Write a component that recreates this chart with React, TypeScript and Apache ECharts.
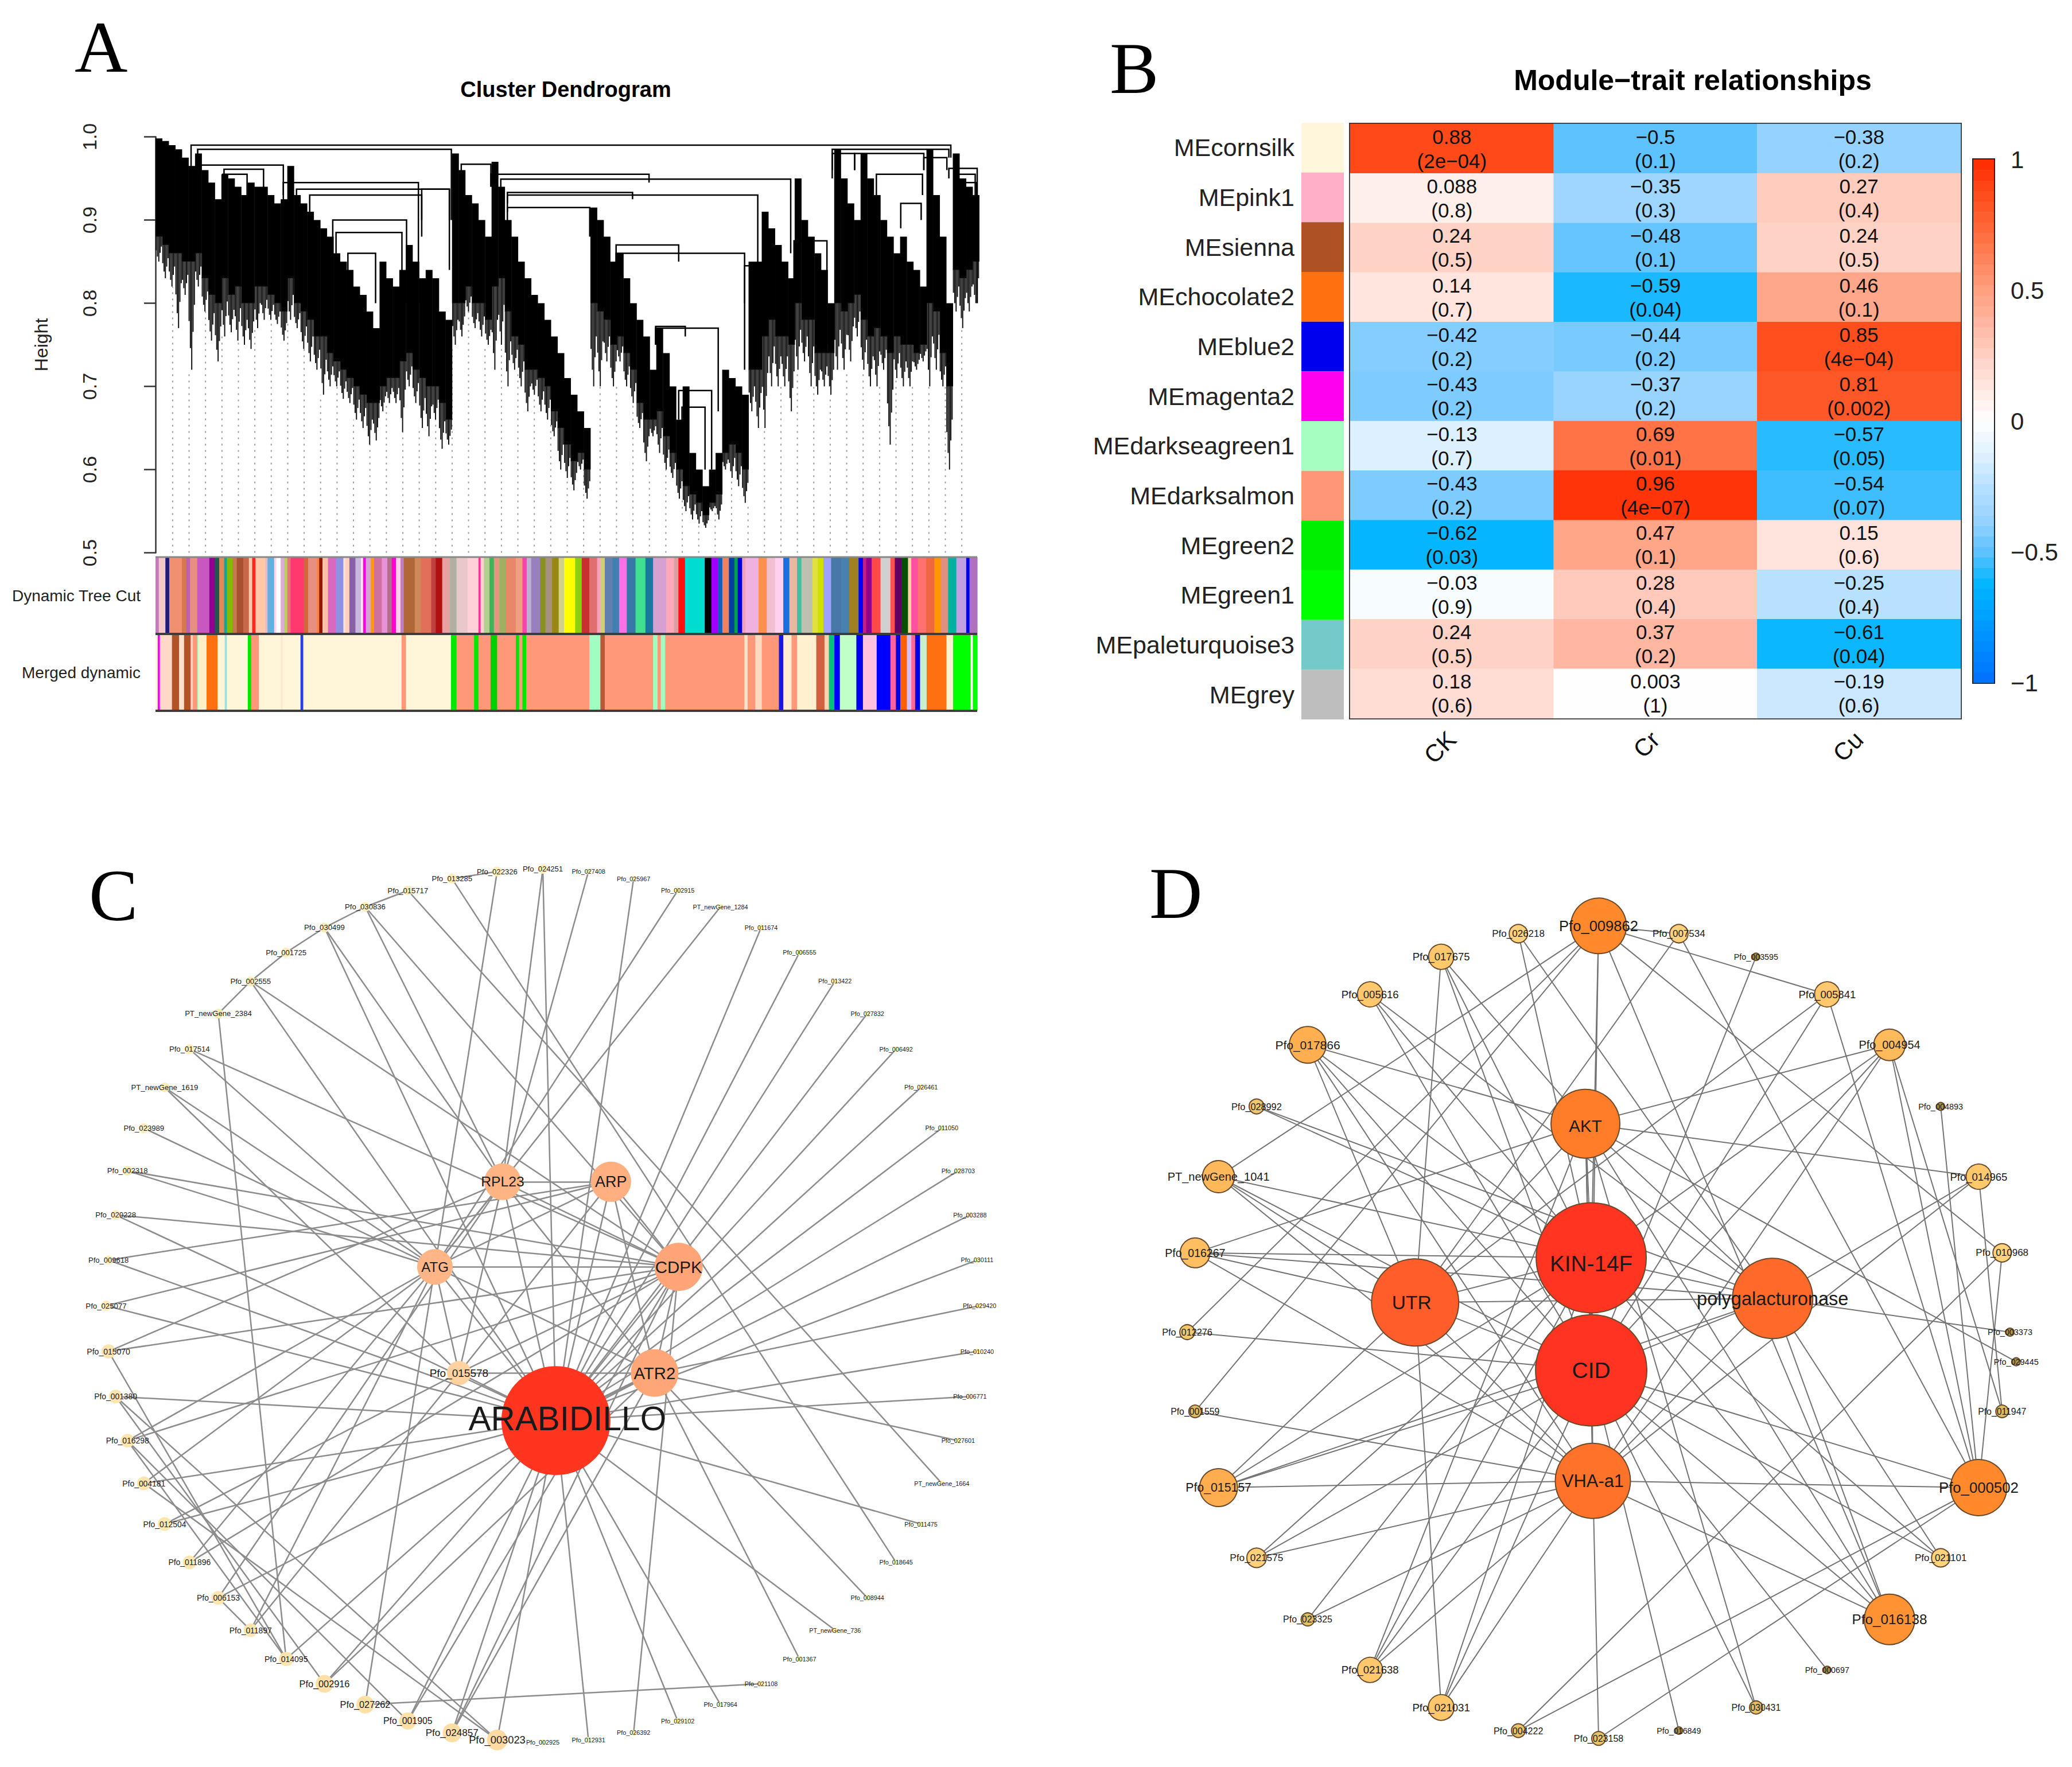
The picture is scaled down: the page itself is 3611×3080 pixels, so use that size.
import React, { useEffect, useRef } from "react";
import * as echarts from "echarts";

const SANS = "Liberation Sans";
const SERIF = "Liberation Serif";

// ---------- A: dendrogram (leaf order runs 0..1247) ----------
const dendroStep = 10;
const dendroTop = [.998,.995,.99,.985,.975,.965,.98,.96,.945,.925,.955,.95,.94,.93,.945,.94,.94,.93,.92,.925,.965,.93,.92,.91,.90,.89,.88,.86,.85,.84,.82,.81,.79,.77,.85,.83,.82,.84,.87,.85,.83,.84,.83,.79,.78,.98,.96,.93,.92,.90,.88,.97,.94,.90,.88,.85,.83,.81,.80,.78,.76,.74,.71,.69,.67,.65,.915,.90,.88,.85,.86,.83,.80,.78,.76,.72,.77,.74,.70,.66,.70,.62,.60,.58,.60,.62,.72,.71,.70,.69,.85,.85,.91,.89,.87,.85,.83,.95,.90,.88,.86,.84,.80,.985,.95,.92,.90,.98,.95,.93,.90,.88,.86,.88,.85,.84,.82,.985,.93,.88,.80,.98,.95,.94,.93];
const dendroCore = [.88,.87,.86,.86,.85,.85,.86,.83,.81,.80,.83,.81,.82,.80,.80,.82,.82,.81,.80,.79,.83,.80,.79,.78,.76,.76,.74,.73,.72,.71,.70,.69,.68,.68,.70,.71,.71,.73,.74,.72,.71,.70,.70,.68,.66,.80,.80,.82,.80,.80,.78,.82,.83,.79,.76,.75,.72,.72,.71,.70,.67,.65,.63,.61,.62,.60,.80,.79,.78,.75,.76,.74,.72,.68,.66,.66,.67,.64,.62,.60,.58,.57,.56,.545,.56,.57,.62,.63,.62,.60,.72,.72,.76,.78,.76,.76,.75,.80,.78,.78,.74,.74,.74,.80,.79,.80,.81,.78,.76,.77,.76,.74,.76,.75,.75,.74,.75,.80,.79,.74,.70,.84,.83,.84,.85];
const dendroTip = [.85,.83,.82,.77,.81,.72,.82,.79,.755,.73,.76,.765,.755,.75,.745,.77,.78,.78,.775,.755,.78,.77,.745,.73,.72,.69,.70,.70,.685,.68,.66,.65,.63,.635,.67,.68,.68,.645,.70,.68,.65,.64,.66,.625,.63,.75,.76,.79,.77,.76,.75,.72,.75,.70,.72,.70,.67,.69,.67,.66,.64,.60,.59,.575,.60,.565,.70,.70,.73,.70,.73,.70,.68,.65,.61,.64,.62,.60,.59,.565,.55,.54,.535,.53,.55,.54,.60,.59,.58,.56,.67,.65,.65,.70,.70,.70,.67,.72,.73,.70,.69,.70,.69,.72,.72,.73,.76,.72,.70,.70,.72,.63,.71,.70,.70,.72,.73,.70,.72,.70,.60,.79,.77,.79,.80];
const mergeLeft = [54,64,64,104,102,194,214,234,269,274,292,404,464,509,524,534,534,534,699,699,759,759,794,799,894,969,1027,1027,1061,1094,1131,1166,1204,1214,1229];
const mergeRight = [1207,449,194,164,139,399,446,404,381,374,334,446,509,749,964,724,914,659,794,894,804,854,844,834,914,1019,1204,1061,1166,1164,1162,1201,1247,1244,1246];
const mergeHeight = [.99,.985,.966,.961,.955,.945,.937,.93,.90,.885,.86,.937,.967,.955,.949,.933,.93,.915,.87,.86,.772,.77,.695,.675,.845,.875,.985,.98,.98,.955,.92,.975,.962,.955,.945];
const mergeDropLeft = [.93,.95,.90,.92,.90,.90,.90,.90,.86,.85,.83,.90,.93,.94,.93,.92,.91,.89,.84,.83,.75,.75,.66,.62,.80,.80,.96,.95,.96,.93,.89,.96,.95,.94,.92];
const mergeDropRight = [.975,.90,.93,.93,.92,.80,.84,.88,.80,.80,.80,.90,.94,.945,.86,.925,.80,.88,.85,.72,.76,.67,.60,.60,.80,.75,.975,.96,.96,.93,.90,.96,.80,.90,.85];

const treeCutStarts = [22,28,40,47,70,78,85,98,120,130,138,147,152,162,170,182,192,198,204,222,226,238,242,250,256,262,268,292,300,316,320,326,336,350,364,368,375,386,396,400,405,414,420,434,444,452,460,468,474,494,505,524,532,544,558,570,590,610,614,620,630,638,648,660,678,690,698,706,722,732,744,756,766,786,798,812,826,832,840,854,866,880,896,914,928,952,966,974,986,1022,1034,1046,1054,1066,1076,1082,1090,1096,1120,1135,1150,1165,1176,1190,1198,1218,1228,1238,1252,1270,1285,1302,1310,1316,1326,1342,1360,1368,1380,1392,1398,1410,1425,1440,1452,1465,1480,1498,1504];
const treeCutColors = ["#c878c0","#f4c8c8","#1c1c80","#f09070","#d87850","#c060b0","#e89080","#c858c0","#900090","#1c5c48","#e08858","#08a898","#88b808","#c87850","#a85030","#c86848","#ffc8a8","#ff2820","#ffc8a8","#e8b8d0","#60b0e0","#f8d8e8","#ffffff","#e0a8e0","#b8d060","#f07078","#ff3870","#d06838","#e89080","#ff8040","#901800","#ffc0a8","#d868c0","#9090e0","#f8e0d8","#ffd0c0","#8860a8","#c8b8e0","#ffe0f0","#ff00e0","#d8a0d8","#ff9810","#d070a0","#e890d8","#b07088","#ff00d0","#ffd0e8","#c080c0","#b06838","#d08858","#e07058","#c04040","#b01010","#e8a0a0","#b0b0a0","#e8c8c8","#ffd0d8","#ff3098","#ffd0d0","#b0d090","#38b858","#e09880","#a0b060","#e88868","#f0a080","#ff40b0","#c0b0d0","#9880c0","#889020","#a89080","#988810","#d0d090","#ffff00","#88d010","#c83030","#e07070","#f8a0c0","#d0d070","#6080b0","#4080b0","#ff70e8","#3878a8","#40e090","#1878a0","#d8a0d0","#ffa8b8","#d8a0a0","#ff1010","#00dcd0","#000000","#a000ff","#1060c0","#f08060","#0040a0","#00a050","#0000d0","#f0a0c0","#f0b0e0","#ff9050","#f0c0d0","#ffd0f0","#1870e0","#e8b8a0","#40c0a0","#c0c0b0","#e0e040","#d0e000","#a0a0ff","#4878a8","#4880b0","#a08020","#0000ff","#c02080","#900090","#ff4848","#d0d0d0","#ff5050","#600060","#005000","#ffd0a0","#ff50a0","#ff7070","#f06840","#ff9800","#e09080","#00b0a0","#c0a0e0","#0000e0","#b070c0"];
const mergedStarts = [22,26,30,52,65,74,86,90,98,100,115,135,148,152,190,196,210,250,254,286,291,470,478,560,570,602,610,632,644,678,684,690,697,812,832,840,928,936,942,950,1094,1100,1114,1126,1157,1165,1180,1190,1225,1240,1248,1258,1268,1298,1310,1335,1360,1370,1378,1390,1398,1405,1414,1426,1462,1474,1506,1510];
const mergedColors = ["#fff5d8","#ff00ff","#ffd8c8","#b05428","#ffe0c8","#b05428","#ffd0c0","#ff9878","#a0ffc0","#ffeec8","#ff7010","#fff5d8","#a0e0d8","#fff5d8","#00e800","#ff9878","#fff5d8","#ffe8cc","#fff5d8","#2040e8","#fff5d8","#ff9878","#fff5d8","#00e800","#ff9878","#00e800","#ff9878","#00d000","#ff9878","#00e800","#ff9878","#00e800","#ff9878","#a0ffc0","#b85838","#ff9878","#a0ffc0","#ff9878","#a0ffc0","#ff9878","#ffe0c8","#ff9878","#ffd8c0","#ff9878","#1818e0","#ffecd0","#ff9878","#fff0d0","#d06040","#ffd0b0","#00c080","#0000ff","#c0ffc8","#0000f0","#ffc0e0","#0000ff","#ff60a0","#0000e0","#ff6000","#d0c0ff","#ff6890","#0000e0","#c8f0d0","#ff7010","#fff0d0","#00ff00","#ffffff","#00ff00"];
const stripRows = ["Merged dynamic", "Dynamic Tree Cut"];

// ---------- B: module-trait heatmap ----------
const modules = ["MEcornsilk","MEpink1","MEsienna","MEchocolate2","MEblue2","MEmagenta2","MEdarkseagreen1","MEdarksalmon","MEgreen2","MEgreen1","MEpaleturquoise3","MEgrey"];
const moduleColors = ["#fff6dc","#ffb0c8","#ae5125","#ff7010","#0000ee","#ff00ee","#a6ffc0","#ff9678","#00ee00","#00ff00","#75c9c9","#bebebe"];
const traits = ["CK", "Cr", "Cu"];
const corCK = [0.88,0.088,0.24,0.14,-0.42,-0.43,-0.13,-0.43,-0.62,-0.03,0.24,0.18];
const corCr = [-0.5,-0.35,-0.48,-0.59,-0.44,-0.37,0.69,0.96,0.47,0.28,0.37,0.003];
const corCu = [-0.38,0.27,0.24,0.46,0.85,0.81,-0.57,-0.54,0.15,-0.25,-0.61,-0.19];
const pCK = ["2e-04","0.8","0.5","0.7","0.2","0.2","0.7","0.2","0.03","0.9","0.5","0.6"];
const pCr = ["0.1","0.3","0.1","0.04","0.2","0.2","0.01","4e-07","0.1","0.4","0.2","1"];
const pCu = ["0.2","0.4","0.5","0.1","4e-04","0.002","0.05","0.07","0.6","0.4","0.04","0.6"];
const blueWhiteRed = ["#0070ff","#0088ff","#00a0ff","#00b5ff","#5dc2ff","#98d3ff","#b8e0ff","#dff1ff","#ffffff","#ffe8e2","#ffd0c4","#ffb6a0","#ffa080","#ff8258","#ff6535","#ff4a1a","#ff2a00"];

// ---------- C: ARABIDILLO network (ring order clockwise from the top) ----------
const ringC = ["Pfo_024251","Pfo_027408","Pfo_025967","Pfo_002915","PT_newGene_1284","Pfo_011674","Pfo_006555","Pfo_013422","Pfo_027832","Pfo_006492","Pfo_026461","Pfo_011050","Pfo_028703","Pfo_003288","Pfo_030111","Pfo_029420","Pfo_010240","Pfo_006771","Pfo_027601","PT_newGene_1664","Pfo_011475","Pfo_018645","Pfo_008944","PT_newGene_736","Pfo_001367","Pfo_021108","Pfo_017964","Pfo_029102","Pfo_026392","Pfo_012931","Pfo_002925","Pfo_003023","Pfo_024857","Pfo_001905","Pfo_027262","Pfo_002916","Pfo_014095","Pfo_011897","Pfo_006153","Pfo_011896","Pfo_012504","Pfo_004181","Pfo_016298","Pfo_001380","Pfo_015070","Pfo_025077","Pfo_009618","Pfo_020228","Pfo_002318","Pfo_023989","PT_newGene_1619","Pfo_017514","PT_newGene_2384","Pfo_002555","Pfo_001725","Pfo_030499","Pfo_030836","Pfo_015717","Pfo_013285","Pfo_022326"];
const ringWeightC = [8,5,5,5,5,5,5,5,5,5,5,5,5,5,5,5,5,5,5,5,5,5,5,5,5,5,5,5,5,5,5,18,16.5,15,15.5,15.5,12.5,12,12,12,12,12,12,12,12.5,9,8,8.5,8.5,8.5,8.5,8.5,8.5,8.5,8.5,8.5,8.5,8.5,8.5,8.5];
const hubsC = ["ARABIDILLO","ATR2","CDPK","ARP","RPL23","ATG","Pfo_015578"];
const hubXC = [0.03,0.256,0.311,0.156,-0.092,-0.247,-0.192];
const hubYC = [-0.263,-0.154,0.089,0.284,0.284,0.089,-0.154];
const hubWeightC = [95,41.5,42,35,32,31,21];
const linksC = ["024251 RPL23 ARABIDILLO","027408 RPL23","025967 ARABIDILLO","002915 ATG","1284 ATG","011674 ARABIDILLO","006555 ARABIDILLO","013422 ARABIDILLO","027832 ARABIDILLO","006492 ARABIDILLO","026461 ARABIDILLO","011050 ARABIDILLO","028703 ARABIDILLO","003288 ARABIDILLO","030111 ARABIDILLO","029420 ATR2","010240 ARABIDILLO","006771 ARABIDILLO","027601 ATR2","1664 015717","011475 ARABIDILLO","018645 013285","008944 ATR2","736 ARABIDILLO","001367 ATR2","021108 027262","017964 ARABIDILLO","029102 ARABIDILLO","026392 CDPK","012931 ARABIDILLO","003023 ARABIDILLO 001380 004181","024857 ARABIDILLO CDPK ATR2","001905 ARABIDILLO CDPK 016298","027262 ATG","002916 ARABIDILLO ATR2 001380","014095 ARABIDILLO 015070 2384 016298","011897 ATG 015578 006153","006153 RPL23 ATR2","011896 ATG CDPK","012504 ARABIDILLO 015578","004181 ARABIDILLO ATG","016298 ATG CDPK","001380 ARABIDILLO","015070 RPL23 CDPK","025077 ARABIDILLO ARP","009618 ARP ARABIDILLO","020228 ARABIDILLO CDPK","002318 ATG CDPK","023989 ATG","1619 ATG 015578","017514 ATG CDPK","2384 002555","002555 CDPK ARABIDILLO 001725","001725 030499","030499 RPL23 ARABIDILLO 030836","030836 RPL23 CDPK 015717","013285 022326","022326 ATG"];

// ---------- D: KIN-14F / CID network ----------
const ringD = ["Pfo_009862","Pfo_007534","Pfo_003595","Pfo_005841","Pfo_004954","Pfo_004893","Pfo_014965","Pfo_010968","Pfo_003373","Pfo_011947","Pfo_000502","Pfo_021101","Pfo_016138","Pfo_000697","Pfo_030431","Pfo_016849","Pfo_023158","Pfo_004222","Pfo_021031","Pfo_021638","Pfo_023325","Pfo_021575","Pfo_015157","Pfo_001559","Pfo_012276","Pfo_016267","PT_newGene_1041","Pfo_028992","Pfo_017866","Pfo_005616","Pfo_017675","Pfo_026218"];
const ringWeightD = [48.5,16,6.5,22,27.5,7,22,16,7,11,49,16,44,6.5,11.5,6.5,12,12,22.5,22,11.5,17,33,11,13,26,28,13,32,22,22,16];
const hubsD = ["KIN-14F","CID","UTR","polygalacturonase","VHA-a1","AKT","Pfo_029445"];
const hubXD = [-0.018,-0.018,-0.446,0.423,-0.014,-0.032,1.015];
const hubYD = [0.183,-0.094,0.073,0.083,-0.366,0.513,-0.073];
const hubWeightD = [96,97,76,70,65.5,60,7];
const linksD = ["009862 KIN-14F CID 1041 012276 001559 005841 007534 010968 016138","007534 UTR 000502","003595 CID","005841 UTR CID 000502","004954 AKT KIN-14F CID VHA-a1 000502","004893 000502","014965 AKT polygalacturonase VHA-a1 011947","010968 004222 000502","003373 polygalacturonase","029445 AKT","011947 004954","000502 CID VHA-a1 004222 023158","021101 KIN-14F CID polygalacturonase","016138 VHA-a1 CID KIN-14F AKT polygalacturonase","000697 CID","030431 CID AKT","016849 CID","023158 VHA-a1","021031 UTR CID KIN-14F VHA-a1","021638 CID KIN-14F VHA-a1 AKT","023325 KIN-14F VHA-a1","021575 VHA-a1 CID KIN-14F","015157 UTR KIN-14F CID polygalacturonase VHA-a1","001559 VHA-a1","012276 CID","016267 AKT KIN-14F UTR polygalacturonase VHA-a1","1041 KIN-14F UTR CID VHA-a1","028992 KIN-14F polygalacturonase","017866 AKT KIN-14F CID VHA-a1 UTR","005616 KIN-14F polygalacturonase CID","017675 UTR KIN-14F CID AKT","026218 KIN-14F polygalacturonase"];

// weight → colour and label-size maps of the two networks
const fontStopsC: number[][] = [[5,10.8],[8,13],[12.5,14],[15.5,16.3],[18,18.3],[21,19],[31,24],[35,27],[42,29.5],[95,58.5]];
const colorStopsC: [number,string][] = [[5,"#fff1a8"],[8.5,"#ffedb8"],[12,"#ffe5ae"],[16,"#ffdfa5"],[21,"#ffd2a0"],[31,"#ffb585"],[42,"#ffa577"],[95,"#ff3520"]];
const fontStopsD: number[][] = [[6.5,14.3],[11,15.8],[16,17],[22,18.5],[32,21],[48,25.4],[60,29.5],[66,31],[70,32.6],[76,33.5],[97,39]];
const colorStopsD: [number,string][] = [[6.5,"#a09048"],[12,"#e8c468"],[16,"#ffd37e"],[22,"#ffc86c"],[30,"#ffb455"],[48,"#ff8a2b"],[60,"#ff7c28"],[76,"#ff5e2b"],[97,"#ff3322"]];
const labelNudge: Record<string, number[]> = { ARABIDILLO: [20, -4], "KIN-14F": [0, 10], AKT: [0, 4], UTR: [-6, 0] };

function rampNumber(stops: number[][], v: number) {
  if (v <= stops[0][0]) return stops[0][1];
  for (let i = 1; i < stops.length; i++) {
    if (v <= stops[i][0]) {
      const t = (v - stops[i - 1][0]) / (stops[i][0] - stops[i - 1][0]);
      return stops[i - 1][1] + t * (stops[i][1] - stops[i - 1][1]);
    }
  }
  return stops[stops.length - 1][1];
}
function rampColor(stops: [number, string][], v: number) {
  if (v <= stops[0][0]) return stops[0][1];
  for (let i = 1; i < stops.length; i++) {
    if (v <= stops[i][0]) {
      const t = (v - stops[i - 1][0]) / (stops[i][0] - stops[i - 1][0]);
      return echarts.color.lerp(t, [stops[i - 1][1], stops[i][1]]) as string;
    }
  }
  return stops[stops.length - 1][1];
}
const minus = (s: string | number) => String(s).replace("-", "\u2212");

function networkSeries(opts: any) {
  const { ring, ringWeight, hubs, hubX, hubY, hubWeight, links, fontStops, colorStops, gridIndex, edge, border } = opts;
  const node = (name: string, x: number, y: number, w: number) => ({
    name,
    value: [x, y],
    symbolSize: w * 2,
    itemStyle: { color: rampColor(colorStops, w), borderColor: border, borderWidth: border === "none" ? 0 : 2 },
    label: { show: true, position: "inside", formatter: "{b}", fontFamily: SANS, color: "#1a1a1a", fontSize: rampNumber(fontStops, w), offset: labelNudge[name] || [0, 0] },
  });
  const nodes = [
    ...ring.map((n: string, i: number) => {
      const a = (i / ring.length) * Math.PI * 2;
      return node(n, Math.sin(a), Math.cos(a), ringWeight[i]);
    }),
    ...hubs.map((n: string, i: number) => node(n, hubX[i], hubY[i], hubWeight[i])),
  ];
  const all = nodes.map((n: any) => n.name);
  const full = (k: string) => all.find((n: string) => n.endsWith(k)) as string;
  const edges: any[] = [];
  links.forEach((row: string) => {
    const [src, ...tgts] = row.split(" ");
    tgts.forEach((t) => edges.push({ source: full(src), target: full(t) }));
  });
  const coreHubs = hubs.filter((h: string) => h !== "Pfo_029445");
  coreHubs.forEach((a: string, i: number) => coreHubs.slice(i + 1).forEach((b: string) => edges.push({ source: a, target: b })));
  return {
    type: "graph",
    coordinateSystem: "cartesian2d",
    xAxisIndex: gridIndex,
    yAxisIndex: gridIndex,
    silent: true,
    roam: false,
    data: nodes,
    links: edges,
    lineStyle: { color: edge.color, width: edge.width, opacity: 1, curveness: 0 },
  };
}

export default function App() {
  const ref = useRef<HTMLDivElement>(null);
  useEffect(() => {
    const chart = echarts.init(ref.current!, null, { renderer: "svg" });
    const columns = dendroTop.map((t, i) => [i * dendroStep + 5, t, dendroCore[i], dendroTip[i]]);
    const merges = mergeLeft.map((l, i) => [l, mergeRight[i], mergeHeight[i], mergeDropLeft[i], mergeDropRight[i]]);
    const guides: number[][] = [];
    for (let x = 26; x <= 1247; x += 24.95) {
      const c = Math.min(dendroTip.length - 1, Math.floor(x / dendroStep));
      guides.push([x, dendroTip[c]]);
    }
    const bands: any[] = [];
    treeCutStarts.forEach((s, i) => bands.push([s, treeCutStarts[i + 1] ?? 1518, 1, treeCutColors[i]]));
    mergedStarts.forEach((s, i) => bands.push([s, mergedStarts[i + 1] ?? 1518, 0, mergedColors[i]]));
    const heat: any[] = [];
    [corCK, corCr, corCu].forEach((col, c) => col.forEach((v, r) => heat.push([c, r, v])));
    const pv = [pCK, pCr, pCu];
    const levels: number[][] = [];
    for (let k = 0; k < 50; k++) levels.push([-1 + k * 0.04, -1 + (k + 1) * 0.04]);
    const hidden = (gridIndex: number, min: number, max: number) => ({ type: "value", gridIndex, min, max, show: false });

    const heatColor = (v: number) => echarts.color.lerp((v + 1) / 2, blueWhiteRed) as string;
    const letter = (text: string, left: number, top: number) => ({
      text, left, top, padding: 0,
      textStyle: { fontFamily: SERIF, fontWeight: "normal", fontSize: 128, color: "#000" },
    });
    const heading = (text: string, left: number, top: number, fontSize: number) => ({
      text, left, top, padding: 0, textAlign: "center", textVerticalAlign: "middle",
      textStyle: { fontFamily: SANS, fontWeight: "bold", fontSize, color: "#000" },
    });

    const option: any = {
      animation: false,
      backgroundColor: "#fff",
      title: [
        letter("A", 130, 18), letter("B", 1934, 55), letter("C", 155, 1497), letter("D", 2003, 1493),
        heading("Cluster Dendrogram", 986, 156, 38),
        heading("Module\u2212trait relationships", 2950, 140, 50),
      ],
      grid: [
        { left: 271, top: 238.4, width: 1432, height: 725.1 },
        { left: 271, top: 971, width: 1432, height: 268 },
        { left: 2268, top: 214, width: 74, height: 1040 },
        { left: 2353, top: 216, width: 1064, height: 1036, show: true, borderColor: "#333", borderWidth: 4, backgroundColor: "transparent" },
        { left: 3439, top: 278, width: 36, height: 912, show: true, borderColor: "#222", borderWidth: 4, backgroundColor: "transparent" },
        { left: 146, top: 1476, width: 1600, height: 1600 },
        { left: 2026, top: 1564, width: 1520, height: 1520 },
      ],
      xAxis: [
        hidden(0, 0, 1247),
        hidden(1, 22, 1518),
        hidden(2, 0, 1),
        { type: "category", gridIndex: 3, data: traits, axisLine: { show: false }, axisTick: { show: false },
          axisLabel: { rotate: 45, fontSize: 42, fontFamily: SANS, color: "#111", margin: 30 } },
        hidden(4, 0, 1),
        hidden(5, -1.0512, 1.0512),
        hidden(6, -1.06, 1.06),
      ],
      yAxis: [
        { type: "value", gridIndex: 0, min: 0.5, max: 1, interval: 0.1, offset: 56, position: "left",
          axisLine: { show: true, lineStyle: { color: "#333", width: 2.5 } },
          axisTick: { show: true, length: 20, lineStyle: { color: "#333", width: 2.5 } },
          splitLine: { show: false },
          axisLabel: { rotate: 90, fontSize: 34, fontFamily: SANS, color: "#222", margin: 42, formatter: (v: number) => v.toFixed(1) },
          name: "Height", nameLocation: "middle", nameRotate: 90, nameGap: 127,
          nameTextStyle: { fontSize: 32, fontFamily: SANS, color: "#222" } },
        { type: "category", gridIndex: 1, data: stripRows, axisLine: { show: false }, axisTick: { show: false },
          axisLabel: { fontSize: 28, fontFamily: SANS, color: "#222", margin: 26 } },
        { type: "category", gridIndex: 2, data: modules, inverse: true, axisLine: { show: false }, axisTick: { show: false },
          axisLabel: { fontSize: 43, fontFamily: SANS, color: "#222", margin: 12 } },
        { type: "category", gridIndex: 3, data: modules, inverse: true, show: false },
        { type: "value", gridIndex: 4, min: -1, max: 1, interval: 0.5, position: "right",
          axisLine: { show: false },
          axisTick: { show: true, length: 23, lineStyle: { color: "#222", width: 2.5 } },
          splitLine: { show: false },
          axisLabel: { fontSize: 42, fontFamily: SANS, color: "#222", margin: 29, formatter: (v: number) => minus(v) } },
        hidden(5, -1.0512, 1.0512),
        { ...hidden(6, -1.0704, 1.0704) },
      ],
      visualMap: [{ show: false, type: "continuous", min: -1, max: 1, dimension: 2, seriesIndex: 7, inRange: { color: blueWhiteRed } }],
      series: [
        // 0 dotted guides under the dendrogram
        { type: "custom", xAxisIndex: 0, yAxisIndex: 0, silent: true, clip: false, data: guides,
          renderItem: (_: any, api: any) => {
            const a = api.coord([api.value(0), 0.5]);
            const b = api.coord([api.value(0), api.value(1)]);
            return { type: "line", shape: { x1: a[0], y1: a[1], x2: b[0], y2: b[1] },
              style: { stroke: "#9a9a9a", lineWidth: 2, lineDash: [3, 8] } };
          } },
        // 1 dense leaves
        { type: "custom", xAxisIndex: 0, yAxisIndex: 0, silent: true, clip: false, data: columns,
          renderItem: (_: any, api: any) => {
            const x = api.value(0);
            const top = api.coord([x, api.value(1)]);
            const core = api.coord([x, api.value(2)]);
            const w = api.size([dendroStep, 0])[0];
            return { type: "rect", shape: { x: top[0] - w * 0.5, y: top[1], width: w + 0.5, height: core[1] - top[1] }, style: { fill: "#000" } };
          } },
        // 2 leaf tips: a comb of thin stems under each column
        { type: "custom", xAxisIndex: 0, yAxisIndex: 0, silent: true, clip: false, data: columns,
          renderItem: (_: any, api: any) => {
            const x = api.value(0);
            const core = api.coord([x, api.value(2)]);
            const tip = api.coord([x, api.value(3)]);
            const w = api.size([dendroStep, 0])[0];
            const span = tip[1] - core[1];
            const comb = [[-0.4, 0.55], [-0.2, 0.8], [0, 1], [0.2, 0.65], [0.4, 0.4]];
            return { type: "group", children: comb.map(([dx, f]) => ({
              type: "line", shape: { x1: tip[0] + w * dx, y1: core[1] - 1, x2: tip[0] + w * dx, y2: core[1] + span * f },
              style: { stroke: "#111", lineWidth: 2 },
            })) };
          } },
        // 3 merge brackets
        { type: "custom", xAxisIndex: 0, yAxisIndex: 0, silent: true, clip: false, data: merges,
          renderItem: (_: any, api: any) => {
            const p = [
              api.coord([api.value(0), api.value(3)]),
              api.coord([api.value(0), api.value(2)]),
              api.coord([api.value(1), api.value(2)]),
              api.coord([api.value(1), api.value(4)]),
            ];
            return { type: "polyline", shape: { points: p }, style: { stroke: "#000", lineWidth: 2.5, fill: "none" } };
          } },
        // 4 colour strips
        { type: "custom", xAxisIndex: 1, yAxisIndex: 1, silent: true, data: bands,
          renderItem: (params: any, api: any) => {
            const row = api.value(2);
            const a = api.coord([api.value(0), row]);
            const b = api.coord([api.value(1), row]);
            const h = api.size([0, 1])[1];
            return { type: "rect", shape: { x: a[0], y: a[1] - h / 2, width: b[0] - a[0] + 0.6, height: h },
              style: { fill: bands[params.dataIndex][3] } };
          } },
        // 5 strip rules
        { type: "custom", xAxisIndex: 1, yAxisIndex: 1, silent: true, clip: false, z: 3, data: [[0, 1, 4], [1, 1, 4], [1, -1, 3]],
          renderItem: (_: any, api: any) => {
            const row = api.value(0);
            const a = api.coord([22, row]);
            const b = api.coord([1518, row]);
            const h = api.size([0, 1])[1];
            const y = a[1] + (api.value(1) * h) / 2;
            return { type: "line", shape: { x1: a[0], y1: y, x2: b[0], y2: y },
              style: { stroke: api.value(1) < 0 ? "#888" : "#3c3c3c", lineWidth: api.value(2) } };
          } },
        // 6 module colours
        { type: "bar", xAxisIndex: 2, yAxisIndex: 2, silent: true, barWidth: "100%",
          data: moduleColors.map((c) => ({ value: 1, itemStyle: { color: c } })) },
        // 7 correlations
        { type: "heatmap", xAxisIndex: 3, yAxisIndex: 3, silent: true, data: heat,
          label: { show: true, fontSize: 35, lineHeight: 42, fontFamily: SANS, color: "#111",
            formatter: (p: any) => `${minus(p.data[2])}\n(${minus(pv[p.data[0]][p.data[1]])})` } },
        // 8 colour key
        { type: "custom", xAxisIndex: 4, yAxisIndex: 4, silent: true, data: levels,
          renderItem: (params: any, api: any) => {
            const lo = api.coord([0, api.value(0)]);
            const hi = api.coord([1, api.value(1)]);
            return { type: "rect", shape: { x: lo[0], y: hi[1], width: hi[0] - lo[0], height: lo[1] - hi[1] + 0.6 },
              style: { fill: heatColor(levels[params.dataIndex][0] + 0.02) } };
          } },
        // 9, 10 networks
        networkSeries({ ring: ringC, ringWeight: ringWeightC, hubs: hubsC, hubX: hubXC, hubY: hubYC, hubWeight: hubWeightC, links: linksC,
          fontStops: fontStopsC, colorStops: colorStopsC, gridIndex: 5, edge: { color: "#8c8c8c", width: 2.5 }, border: "none" }),
        networkSeries({ ring: ringD, ringWeight: ringWeightD, hubs: hubsD, hubX: hubXD, hubY: hubYD, hubWeight: hubWeightD, links: linksD,
          fontStops: fontStopsD, colorStops: colorStopsD, gridIndex: 6, edge: { color: "#737373", width: 2 }, border: "#6a4a2a" }),
      ],
    };
    chart.setOption(option);
    return () => chart.dispose();
  }, []);
  return <div ref={ref} style={{ position: "absolute", left: 0, top: 0, width: 3611, height: 3080 }} />;
}
